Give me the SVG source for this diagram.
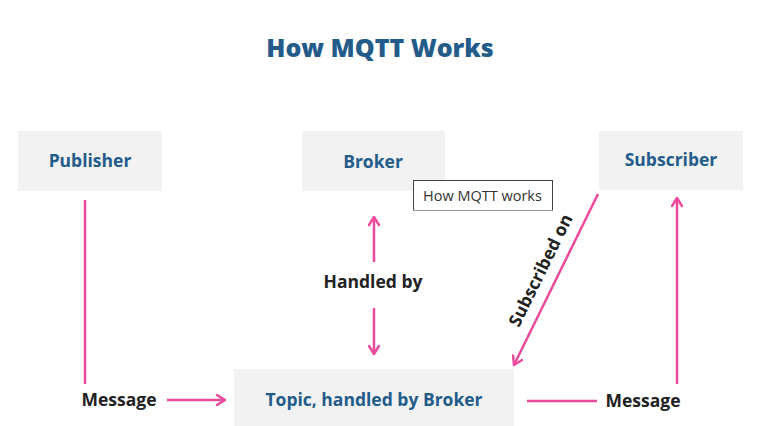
<svg xmlns="http://www.w3.org/2000/svg" width="772" height="426" viewBox="0 0 772 426">
<style>
.box{fill:#f2f2f2}
.nl{font-family:"Open Sans","Noto Sans",sans-serif;font-weight:bold;font-size:17.5px;fill:#235b8b;text-anchor:middle}
.el{font-family:"Open Sans","Noto Sans",sans-serif;font-weight:bold;font-size:17.5px;fill:#222;text-anchor:middle}
.ln{stroke:#ec4a9c;stroke-width:2.5;fill:none}
</style>
<defs>
<marker id="ah" viewBox="0 0 12 12" refX="10" refY="6" markerWidth="12" markerHeight="12" markerUnits="userSpaceOnUse" orient="auto">
<path d="M2,1 L10,6 L2,11" fill="none" stroke="#ec4a9c" stroke-width="2.5" stroke-linecap="round" stroke-linejoin="round"/>
</marker>
</defs>
<rect width="772" height="426" fill="#fff"/>
<text x="380" y="57" font-family="'Open Sans','Noto Sans',sans-serif" font-weight="800" font-size="25" fill="#235b8b" text-anchor="middle">How MQTT Works</text>
<g id="publisher"><rect class="box" x="18" y="131" width="144" height="60"/><text class="nl" x="90" y="167">Publisher</text></g>
<g id="broker"><rect class="box" x="302" y="131" width="143" height="60"/><text class="nl" x="373" y="168">Broker</text></g>
<g id="subscriber"><rect class="box" x="599" y="131" width="144" height="59"/><text class="nl" x="671" y="166">Subscriber</text></g>
<g id="topic"><rect class="box" x="234" y="369" width="280" height="57"/><text class="nl" x="374" y="406">Topic, handled by Broker</text></g>
<g id="connectors">
<line class="ln" x1="85" y1="200" x2="85" y2="384"/>
<text class="el" x="119" y="406">Message</text>
<line class="ln" x1="167" y1="400" x2="225" y2="400" marker-end="url(#ah)"/>
<line class="ln" x1="374" y1="262" x2="374" y2="217" marker-end="url(#ah)"/>
<text class="el" x="373" y="288">Handled by</text>
<line class="ln" x1="374" y1="308" x2="374" y2="354" marker-end="url(#ah)"/>
<line class="ln" x1="598" y1="194" x2="514" y2="365" marker-end="url(#ah)"/>
<text class="el" transform="translate(546,273) rotate(-63.8)">Subscribed on</text>
<line class="ln" x1="527" y1="401" x2="597" y2="401"/>
<text class="el" x="643" y="407">Message</text>
<line class="ln" x1="677" y1="384" x2="677" y2="198" marker-end="url(#ah)"/>
</g>
<g id="tooltip">
<rect x="413.5" y="180.5" width="139" height="30" fill="#fff" stroke="#444" stroke-width="1"/>
<line x1="413" y1="210.5" x2="553" y2="210.5" stroke="#999" stroke-width="1"/>
<text x="423" y="201" font-family="'Segoe UI','Open Sans','Noto Sans',sans-serif" font-size="14.5" fill="#333">How MQTT works</text>
</g>
</svg>
